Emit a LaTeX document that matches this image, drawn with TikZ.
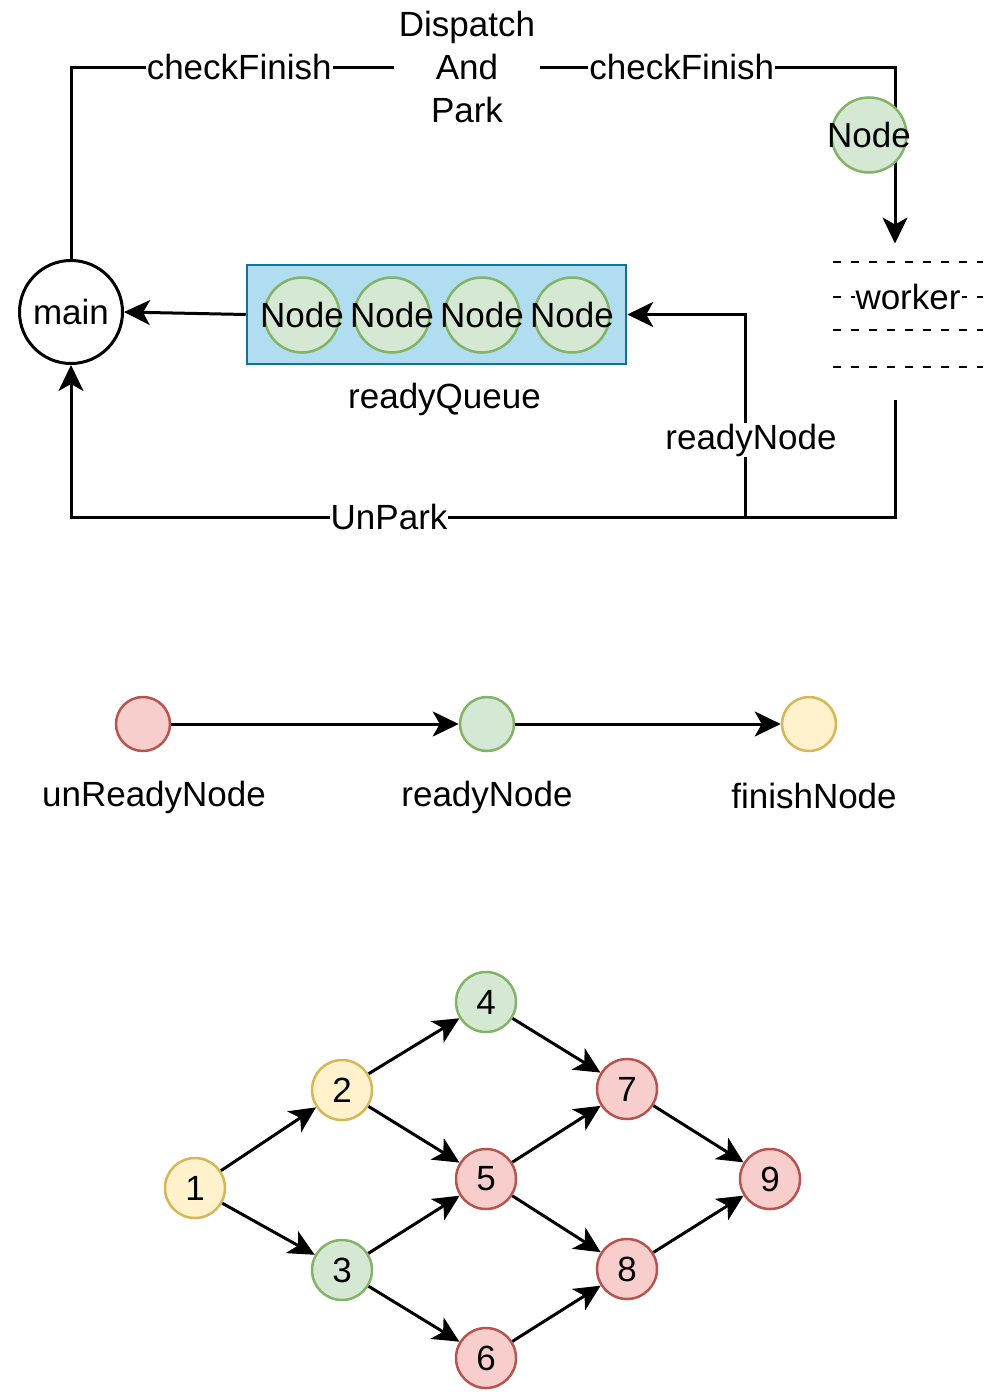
\documentclass[tikz,border=0pt]{standalone}
\usepackage{fontspec}
\setmainfont{Liberation Sans}
\usetikzlibrary{arrows.meta,positioning}

\definecolor{redfill}{HTML}{F8CECC}
\definecolor{redline}{HTML}{B85450}
\definecolor{greenfill}{HTML}{D5E8D4}
\definecolor{greenline}{HTML}{82B366}
\definecolor{yellowfill}{HTML}{FFF2CC}
\definecolor{yellowline}{HTML}{D6B656}
\definecolor{queuefill}{HTML}{B1DDF0}
\definecolor{queueline}{HTML}{10739E}

\begin{document}
\begin{tikzpicture}[x=1pt, y=-1pt, line width=3pt,
    >={Stealth[length=26pt,width=25pt,inset=7pt]},
    font=\fontsize{35}{43}\selectfont,
    lbl/.style={fill=white, inner sep=1pt},
    dot/.style={circle, draw, line width=2.5pt, inner sep=0pt, minimum size=60pt},
    rednode/.style={dot, draw=redline, fill=redfill},
    greennode/.style={dot, draw=greenline, fill=greenfill},
    yellownode/.style={dot, draw=yellowline, fill=yellowfill}]
    \useasboundingbox (0,0) rectangle (987,1392);

    % Top loop:
    \node (main) [circle, draw, fill=white, inner sep=0pt, minimum size=103pt] at (71,312) {main};
    \node (dap) [align=center, inner sep=3pt] at (467,67) {Dispatch\\And\\Park};
    \node (wkr) [inner sep=0pt, minimum width=124pt, minimum height=153pt] at (895,321.5) {};
    \coordinate (bot) at (0,517);
    \coordinate (split) at (745,517);

    \draw (main.north) |- (dap.west) node[lbl, pos=0.76] {checkFinish};
    \draw[->] (dap.east) -| (wkr.north) node[lbl, pos=0.2] {checkFinish};
    \node (busy) [greennode, minimum size=75pt] at (869,135) {\makebox[0pt]{Node}};

    % Worker lanes:
    \foreach \y in {262,297,330,367}
        \draw[line width=2.2pt, dash pattern=on 8pt off 10pt] (833,\y) -- (983,\y);
    \node (wkrtext) [lbl] at (908,297) {worker};

    % Ready queue:
    \node (rq) [draw=queueline, fill=queuefill, line width=2.5pt, inner sep=0pt, minimum width=379pt, minimum height=99pt] at (436.5,314.5) {};
    \node (q1) [greennode, minimum size=75pt] at (302,315) {\makebox[0pt]{Node}};
    \node (q2) [greennode, minimum size=75pt, right=12.5pt of q1] {\makebox[0pt]{Node}};
    \node (q3) [greennode, minimum size=75pt, right=12.5pt of q2] {\makebox[0pt]{Node}};
    \node (q4) [greennode, minimum size=75pt, right=12.5pt of q3] {\makebox[0pt]{Node}};
    \node (rqtext) [below=13pt of rq, xshift=8pt] {readyQueue};
    \draw[->] (rq.west) -- (main.east);

    % Way back:
    \draw[->] (wkr.south) -- (wkr.south |- bot) -- (main.south |- bot) node[lbl, pos=0.614] {UnPark} -- (main.south);
    \draw[->] (split) |- (rq.east) node[lbl, pos=0.19, xshift=6pt] {readyNode};

    % Node states:
    \node (unready) [rednode, minimum size=54pt] at (143,724) {};
    \node (ready) [greennode, minimum size=54pt] at (487,724) {};
    \node (finish) [yellownode, minimum size=54pt] at (809,724) {};
    \draw[->] (unready) -- (ready);
    \draw[->] (ready) -- (finish);
    \node (unreadytext) at (154,797) {unReadyNode};
    \node (readytext) at (487,797) {readyNode};
    \node (finishtext) at (814,796) {finishNode};

    % Dependency graph:
    \node (n1) [yellownode] at (195,1188) {1};
    \node (n2) [yellownode] at (342,1090) {2};
    \node (n3) [greennode] at (342,1270) {3};
    \node (n4) [greennode] at (486,1002) {4};
    \node (n5) [rednode] at (486,1179) {5};
    \node (n6) [rednode] at (486,1358) {6};
    \node (n7) [rednode] at (627,1089) {7};
    \node (n8) [rednode] at (627,1269) {8};
    \node (n9) [rednode] at (770,1179) {9};
    \foreach \a/\b in {n1/n2, n1/n3, n2/n4, n2/n5, n3/n5, n3/n6, n4/n7, n5/n7, n5/n8, n6/n8, n7/n9, n8/n9}
        \draw[->] (\a) -- (\b);
\end{tikzpicture}
\end{document}
